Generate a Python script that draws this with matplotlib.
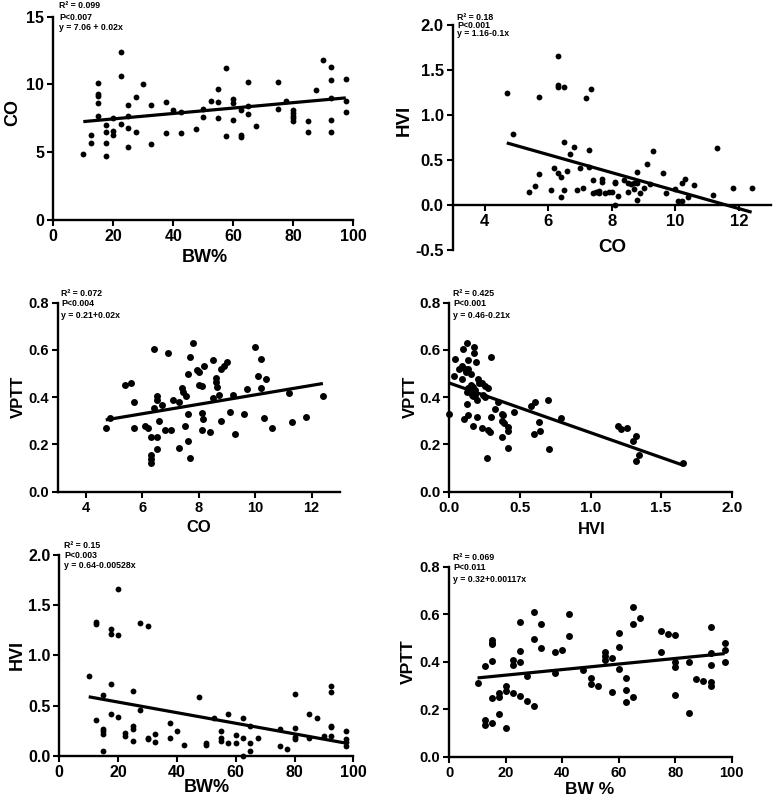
import numpy as np
import matplotlib
matplotlib.use("Agg")
import matplotlib.pyplot as plt
from matplotlib.ticker import FormatStrFormatter

plt.rcParams['font.family'] = ['Liberation Sans', 'DejaVu Sans']
plt.rcParams['font.weight'] = 'bold'
plt.rcParams['axes.unicode_minus'] = False

# ---- data ----
# panel 1: BW% vs CO
p1_bw = [10, 12.5, 12.5, 15, 15, 15, 15, 15, 17.5, 17.5, 17.5, 17.5, 20, 20, 20,
         22.5, 22.5, 22.5, 25, 25, 25, 25, 27.5, 27.5, 30, 32.5, 32.5, 37.5, 37.5,
         40, 42.5, 42.5, 47.5, 50, 50, 52.5, 55, 55, 55, 57.5, 57.5, 60, 60, 60,
         62.5, 62.5, 62.5, 65, 65, 65, 67.5, 75, 75, 77.5, 80, 80, 80, 80, 80,
         85, 85, 87.5, 90, 92.5, 92.5, 92.5, 92.5, 92.5, 97.5, 97.5, 97.5]
p1_co = [4.9, 5.7, 6.3, 10.1, 9.3, 9.15, 8.6, 7.7, 7.0, 6.5, 5.7, 4.7, 7.5, 6.6, 6.3,
         12.4, 10.6, 7.1, 8.5, 7.7, 6.8, 5.4, 9.1, 6.5, 10.0, 8.5, 5.6, 8.7, 6.4,
         8.1, 8.0, 6.4, 6.7, 8.2, 7.6, 8.8, 9.7, 8.7, 7.5, 11.2, 6.2, 8.9, 8.6, 7.4,
         6.3, 6.1, 8.1, 10.2, 8.4, 7.8, 6.9, 10.2, 8.2, 8.8, 8.1, 7.9, 7.7, 7.5, 7.3,
         7.3, 6.5, 9.6, 11.8, 11.3, 10.3, 9.0, 7.4, 6.5, 10.4, 8.8, 8.0]

# panel 2: CO vs HVI
p2_co = [4.7, 4.9, 5.4, 5.6, 5.7, 5.7, 6.1, 6.2, 6.3, 6.3, 6.3, 6.3, 6.4, 6.4,
         6.5, 6.5, 6.5, 6.6, 6.7, 6.8, 6.9, 7.0, 7.1, 7.2, 7.3, 7.3, 7.35, 7.4, 7.4,
         7.5, 7.6, 7.6, 7.7, 7.7, 7.8, 7.9, 8.0, 8.1, 8.1, 8.1, 8.2, 8.4, 8.5, 8.5,
         8.6, 8.7, 8.7, 8.8, 8.8, 8.8, 8.9, 9.0, 9.1, 9.2, 9.3, 9.6, 9.7, 10.0,
         10.1, 10.2, 10.2, 10.3, 10.4, 10.6, 11.2, 11.3, 11.8, 12.4]
p2_hvi = [1.25, 0.79, 0.14, 0.21, 1.20, 0.35, 0.17, 0.41, 0.36, 1.66, 1.33, 1.31,
          0.31, 0.09, 1.31, 0.70, 0.17, 0.38, 0.57, 0.64, 0.17, 0.41, 0.19, 1.19,
          0.61, 0.42, 1.29, 0.28, 0.13, 0.15, 0.16, 0.13, 0.29, 0.26, 0.13, 0.15,
          0.14, 0.26, 0.24, 0.0, 0.10, 0.28, 0.25, 0.14, 0.23, 0.24, 0.18, 0.24,
          0.37, 0.06, 0.13, 0.19, 0.46, 0.23, 0.60, 0.36, 0.13, 0.18, 0.04, 0.04,
          0.25, 0.29, 0.09, 0.22, 0.11, 0.63, 0.19, 0.19]

# panel 3: CO vs VPTT
p3_co = [4.7, 4.85, 5.4, 5.6, 5.7, 5.7, 6.1, 6.2, 6.3, 6.3, 6.3, 6.3, 6.4, 6.4,
         6.5, 6.5, 6.5, 6.5, 6.6, 6.7, 6.8, 6.9, 7.0, 7.1, 7.3, 7.3, 7.4, 7.45,
         7.5, 7.55, 7.6, 7.6, 7.6, 7.7, 7.7, 7.8, 7.95, 8.0, 8.0, 8.1, 8.1, 8.1,
         8.15, 8.2, 8.4, 8.5, 8.5, 8.6, 8.6, 8.65, 8.7, 8.8, 8.8, 8.9, 9.0, 9.1,
         9.2, 9.3, 9.6, 9.7, 10.0, 10.1, 10.2, 10.2, 10.3, 10.4, 10.6, 11.2, 11.3,
         11.8, 12.4]
p3_vptt = [0.27, 0.31, 0.45, 0.46, 0.38, 0.27, 0.28, 0.27, 0.233, 0.154, 0.137,
           0.123, 0.605, 0.353, 0.405, 0.39, 0.233, 0.182, 0.30, 0.367, 0.261,
           0.586, 0.261, 0.389, 0.38, 0.184, 0.438, 0.424, 0.278, 0.403, 0.499,
           0.328, 0.216, 0.572, 0.141, 0.629, 0.516, 0.506, 0.452, 0.448, 0.332,
           0.261, 0.307, 0.53, 0.254, 0.558, 0.396, 0.48, 0.466, 0.445, 0.41,
           0.519, 0.30, 0.53, 0.548, 0.339, 0.41, 0.244, 0.329, 0.436, 0.614,
           0.49, 0.56, 0.44, 0.314, 0.476, 0.269, 0.417, 0.297, 0.318, 0.406]

# panel 4: HVI vs VPTT
p4_hvi = [0.0, 0.127, 0.099, 0.177, 0.177, 0.04, 0.135, 0.189, 0.295, 0.066,
          0.088, 0.11, 0.116, 0.135, 0.154, 0.035, 0.092, 0.205, 0.212, 0.234,
          0.253, 0.276, 0.154, 0.135, 0.17, 0.123, 0.147, 0.182, 0.158, 0.182,
          0.194, 0.17, 0.241, 0.253, 0.347, 0.123, 0.324, 0.371, 0.382, 0.13,
          0.106, 0.194, 0.295, 0.375, 0.39, 0.46, 0.579, 0.607, 0.697, 0.791,
          0.635, 0.642, 0.602, 0.17, 0.229, 0.272, 0.288, 0.418, 0.413, 0.371,
          0.413, 0.706, 0.265, 1.197, 1.214, 1.26, 1.32, 1.30, 1.345, 1.32, 1.657]
p4_vptt = [0.329, 0.629, 0.605, 0.614, 0.586, 0.561, 0.558, 0.548, 0.572, 0.519,
           0.53, 0.519, 0.508, 0.519, 0.50, 0.49, 0.476, 0.476, 0.462, 0.459,
           0.448, 0.441, 0.452, 0.438, 0.442, 0.424, 0.424, 0.431, 0.41, 0.41,
           0.389, 0.403, 0.41, 0.40, 0.381, 0.372, 0.35, 0.329, 0.325, 0.325,
           0.307, 0.318, 0.315, 0.301, 0.292, 0.339, 0.363, 0.381, 0.389, 0.311,
           0.297, 0.258, 0.244, 0.278, 0.268, 0.261, 0.254, 0.275, 0.258, 0.233,
           0.184, 0.182, 0.141, 0.278, 0.264, 0.268, 0.236, 0.215, 0.155, 0.13, 0.12]

# panel 5: BW% vs HVI
p5_bw = [10, 12.5, 12.5, 12.5, 15, 15, 15, 15, 15, 17.5, 17.5, 17.5, 17.5, 20,
         20, 20, 22.5, 22.5, 25, 25, 25, 25, 27.5, 27.5, 30, 30, 30, 32.5, 32.5,
         37.5, 37.5, 40, 42.5, 47.5, 50, 50, 52.5, 55, 55, 55, 57.5, 57.5, 60, 60,
         62.5, 62.5, 62.5, 65, 65, 65, 67.5, 75, 75, 77.5, 80, 80, 80, 80, 85, 85,
         87.5, 90, 92.5, 92.5, 92.5, 92.5, 92.5, 97.5, 97.5, 97.5, 97.5]
p5_hvi = [0.795, 1.336, 1.313, 0.36, 0.606, 0.27, 0.246, 0.213, 0.047, 1.26,
          1.213, 0.71, 0.416, 1.66, 1.20, 0.389, 0.229, 0.196, 0.645, 0.296,
          0.263, 0.149, 1.32, 0.46, 1.29, 0.18, 0.166, 0.22, 0.136, 0.33, 0.173,
          0.25, 0.11, 0.585, 0.13, 0.11, 0.38, 0.25, 0.173, 0.149, 0.42, 0.123,
          0.21, 0.13, 0.38, 0.176, 0.0, 0.296, 0.13, 0.05, 0.18, 0.263, 0.096,
          0.066, 0.616, 0.276, 0.183, 0.163, 0.42, 0.176, 0.38, 0.197, 0.698,
          0.638, 0.30, 0.286, 0.197, 0.25, 0.163, 0.133, 0.10]

# panel 6: BW% vs VPTT
p6_bw = [10, 12.5, 12.5, 12.5, 15, 15, 15, 15, 15, 15, 17.5, 17.5, 17.5, 20, 20,
         20, 22.5, 22.5, 22.5, 25, 25, 25, 25, 27.5, 27.5, 30, 30, 30, 32.5, 32.5,
         37.5, 37.5, 40, 42.5, 42.5, 47.5, 50, 50, 52.5, 55, 55, 55, 57.5, 57.5,
         60, 60, 60, 62.5, 62.5, 62.5, 65, 65, 65, 67.5, 75, 75, 77.5, 80, 80, 80,
         80, 85, 85, 87.5, 90, 92.5, 92.5, 92.5, 92.5, 92.5, 97.5, 97.5, 97.5]
p6_vptt = [0.312, 0.382, 0.155, 0.132, 0.141, 0.491, 0.480, 0.474, 0.404, 0.246,
           0.18, 0.267, 0.253, 0.298, 0.278, 0.122, 0.407, 0.386, 0.27, 0.569,
           0.447, 0.399, 0.257, 0.34, 0.236, 0.611, 0.497, 0.214, 0.557, 0.457,
           0.44, 0.351, 0.449, 0.602, 0.508, 0.365, 0.33, 0.306, 0.298, 0.44,
           0.424, 0.407, 0.417, 0.274, 0.52, 0.46, 0.37, 0.331, 0.281, 0.232,
           0.629, 0.559, 0.253, 0.585, 0.528, 0.44, 0.517, 0.513, 0.40, 0.379,
           0.26, 0.40, 0.185, 0.328, 0.32, 0.547, 0.435, 0.386, 0.316, 0.296,
           0.477, 0.449, 0.40]

# regression lines as printed on the panels (intercept, slope)
fits = [(7.06, 0.02), (1.16, -0.1), (0.21, 0.02), (0.46, -0.21), (0.64, -0.00528), (0.32, 0.00117)]
stats = [["R² = 0.099", "P<0.007", "y = 7.06 + 0.02x"],
         ["R² = 0.18", "P<0.001", "y = 1.16-0.1x"],
         ["R² = 0.072", "P<0.004", "y = 0.21+0.02x"],
         ["R² = 0.425", "P<0.001", "y = 0.46-0.21x"],
         ["R² = 0.15", "P<0.003", "y = 0.64-0.00528x"],
         ["R² = 0.069", "P<0.011", "y = 0.32+0.00117x"]]
xlabels = ["BW%", "CO", "CO", "HVI", "BW%", "BW %"]
ylabels = ["CO", "HVI", "VPTT", "VPTT", "HVI", "VPTT"]
series = [(p1_bw, p1_co), (p2_co, p2_hvi), (p3_co, p3_vptt),
          (p4_hvi, p4_vptt), (p5_bw, p5_hvi), (p6_bw, p6_vptt)]

# ---- layout (pixels in a 780x808 canvas) ----
W, H = 780, 808
layout = [
    dict(box=(53.3, 16.7, 353.3, 220), xlim=(0, 100), ylim=(0, 15), xt=(0, 100, 20), yt=(0, 15, 5),
         yf='%d', xf='%d', yl=(13, 112), xl=(205, 258), tx=59, ty=(6, 17, 28), tfs=11.5, lfs=13, ms=4.2),
    dict(box=(452.7, 25, 770.7, 250), xlim=(3, 13), ylim=(-0.5, 2.0), xt=(4, 12, 2), yt=(-0.5, 2.0, 0.5),
         yf='%.1f', xf='%d', yl=(404, 120), xl=(612, 247), tx=457, ty=(17, 25, 33), tfs=12, lfs=13.5, ms=4.2),
    dict(box=(57.8, 302.7, 339.8, 491.7), xlim=(3, 13), ylim=(0, 0.8), xt=(4, 12, 2), yt=(0, 0.8, 0.2),
         yf='%.1f', xf='%d', yl=(18, 397), xl=(199, 528), tx=61, ty=(293, 304, 316), tfs=10.5, lfs=12, ms=5.0),
    dict(box=(449.3, 302.7, 731.7, 491.7), xlim=(0, 2), ylim=(0, 0.8), xt=(0, 2, 0.5), yt=(0, 0.8, 0.2),
         yf='%.1f', xf='%.1f', yl=(410, 397), xl=(592, 530), tx=453, ty=(293, 304, 316), tfs=11, lfs=12, ms=5.0),
    dict(box=(59.3, 555, 353.3, 755.7), xlim=(0, 100), ylim=(0, 2.0), xt=(0, 100, 20), yt=(0, 2.0, 0.5),
         yf='%.1f', xf='%d', yl=(17, 655), xl=(207, 788), tx=64, ty=(545, 555, 565), tfs=11.5, lfs=13, ms=4.2),
    dict(box=(449.3, 566.7, 731.7, 756.7), xlim=(0, 100), ylim=(0, 0.8), xt=(0, 100, 20), yt=(0, 0.8, 0.2),
         yf='%.1f', xf='%d', yl=(408, 662), xl=(590, 789), tx=453, ty=(557, 568, 580), tfs=10.5, lfs=12.5, ms=5.0),
]

fig = plt.figure(figsize=(W / 100, H / 100), dpi=100)

for i, L in enumerate(layout):
    l, t, r, b = L['box']
    ax = fig.add_axes([l / W, 1 - b / H, (r - l) / W, (b - t) / H])
    x, y = series[i]
    ax.plot(x, y, 'o', color='black', markersize=L['ms'], markeredgewidth=0, clip_on=False)
    a, k = fits[i]
    xx = np.array([min(x), max(x)])
    ax.plot(xx, a + k * xx, color='black', lw=2.3, solid_capstyle='butt')

    ax.set_xlim(*L['xlim'])
    ax.set_ylim(*L['ylim'])
    ax.set_xticks(np.arange(L['xt'][0], L['xt'][1] + 1e-9, L['xt'][2]))
    ax.set_yticks(np.arange(L['yt'][0], L['yt'][1] + 1e-9, L['yt'][2]))
    ax.xaxis.set_major_formatter(FormatStrFormatter(L['xf']))
    ax.yaxis.set_major_formatter(FormatStrFormatter(L['yf']))

    for s in ['top', 'right']:
        ax.spines[s].set_visible(False)
    for s in ['left', 'bottom']:
        ax.spines[s].set_linewidth(1.7)
    if L['ylim'][0] < 0:
        ax.spines['bottom'].set_position(('data', 0))
    ax.tick_params(direction='out', length=4.5, width=1.5, labelsize=L['tfs'], pad=2)
    for lab in ax.get_xticklabels() + ax.get_yticklabels():
        lab.set_fontweight('bold')

    ax.set_xlabel(xlabels[i], fontsize=L['lfs'], fontweight='bold', va='center')
    ax.set_ylabel(ylabels[i], fontsize=L['lfs'], fontweight='bold', va='center')
    ax.yaxis.set_label_coords((L['yl'][0] - l) / (r - l), (b - L['yl'][1]) / (b - t))
    ax.xaxis.set_label_coords((L['xl'][0] - l) / (r - l), (b - L['xl'][1]) / (b - t))

    for line, ty in zip(stats[i], L['ty']):
        fig.text(L['tx'] / W, 1 - ty / H, line, fontsize=6.3, fontweight='bold',
                 ha='left', va='center')

fig.savefig("out.png", dpi=100)
